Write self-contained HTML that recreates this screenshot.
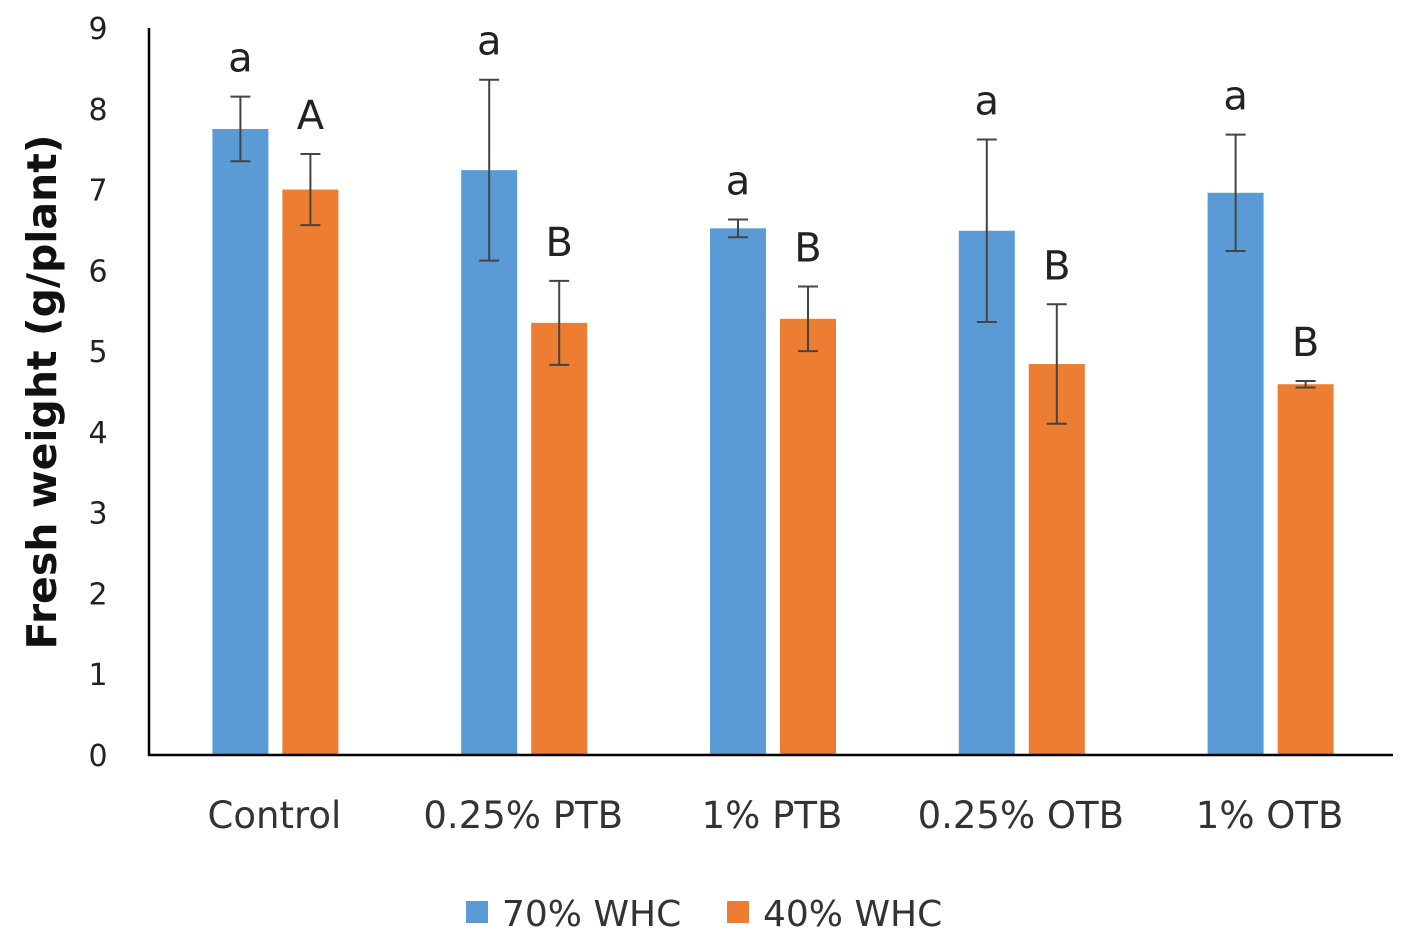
<!DOCTYPE html>
<html><head><meta charset="utf-8"><style>
html,body{margin:0;padding:0;background:#fff;}
svg{display:block;font-family:"DejaVu Sans","Liberation Sans",sans-serif;}
</style></head><body>
<svg id="chart" width="1415" height="952"></svg>
<script>
const categories=["Control","0.25% PTB","1% PTB","0.25% OTB","1% OTB"];
const series70=[7.75,7.24,6.52,6.49,6.96];
const err70=[0.4,1.12,0.11,1.13,0.72];
const letters70=["a","a","a","a","a"];
const series40=[7.0,5.35,5.4,4.84,4.59];
const err40=[0.44,0.52,0.4,0.74,0.04];
const letters40=["A","B","B","B","B"];
const yTicks=[0,1,2,3,4,5,6,7,8,9];

const NS="http://www.w3.org/2000/svg";
const svg=document.getElementById('chart');
const x0=149,x1=1393,yBase=755,yTop=28,yMax=9;
const y=v=>yBase-(yBase-yTop)*v/yMax;
const catW=(x1-x0)/categories.length;
const cx=i=>x0+catW*(i+0.5)+1;
function el(tag,attrs,text){const e=document.createElementNS(NS,tag);for(const k in attrs)e.setAttribute(k,attrs[k]);if(text!==undefined)e.textContent=text;svg.appendChild(e);return e;}

yTicks.forEach(t=>{
  const e=el('text',{x:98,y:y(t)+11,'text-anchor':'middle','font-size':30,fill:'#222'},t);
  
  
});
const series=[[series70,err70,letters70,'#5b9bd5',-34,'bar-70'],[series40,err40,letters40,'#ed7d31',36,'bar-40']];
categories.forEach((c,i)=>{
  series.forEach(([vals,errs,lets,col,off,nm])=>{
    const v=vals[i],bx=cx(i)+off;
    const r=el('rect',{x:bx-28,y:y(v),width:56,height:yBase-y(v),fill:col});
    
    
    const hi=y(v+errs[i]),lo=y(v-errs[i]);
    const g=el('path',{d:`M${bx} ${hi}V${lo}M${bx-10} ${hi}H${bx+10}M${bx-10} ${lo}H${bx+10}`,stroke:'#444','stroke-width':2,fill:'none'});
    
    
    const t=el('text',{x:bx,y:hi-25,'text-anchor':'middle','font-size':40,fill:'#222'},lets[i]);
    
    
  });
  const l=el('text',{x:cx(i),y:828,'text-anchor':'middle','font-size':37,fill:'#333'},c);
  
  
});
const ax=el('path',{d:`M${x0} ${yTop}V${yBase}H${x1}`,stroke:'#000','stroke-width':2.5,fill:'none'});


const yt=el('text',{x:0,y:0,transform:'translate(56,392) rotate(-90)','text-anchor':'middle','font-size':41,'font-weight':'bold',fill:'#111'},'Fresh weight (g/plant)');


[[466,'#5b9bd5','70% WHC','legend-70'],[727,'#ed7d31','40% WHC','legend-40']].forEach(([lx,col,txt,nm])=>{
  const s=el('rect',{x:lx,y:901,width:22,height:22,fill:col});
  
  
  const t=el('text',{x:lx+36,y:926,'font-size':36,fill:'#333'},txt);
  
  
});
</script>
</body></html>
